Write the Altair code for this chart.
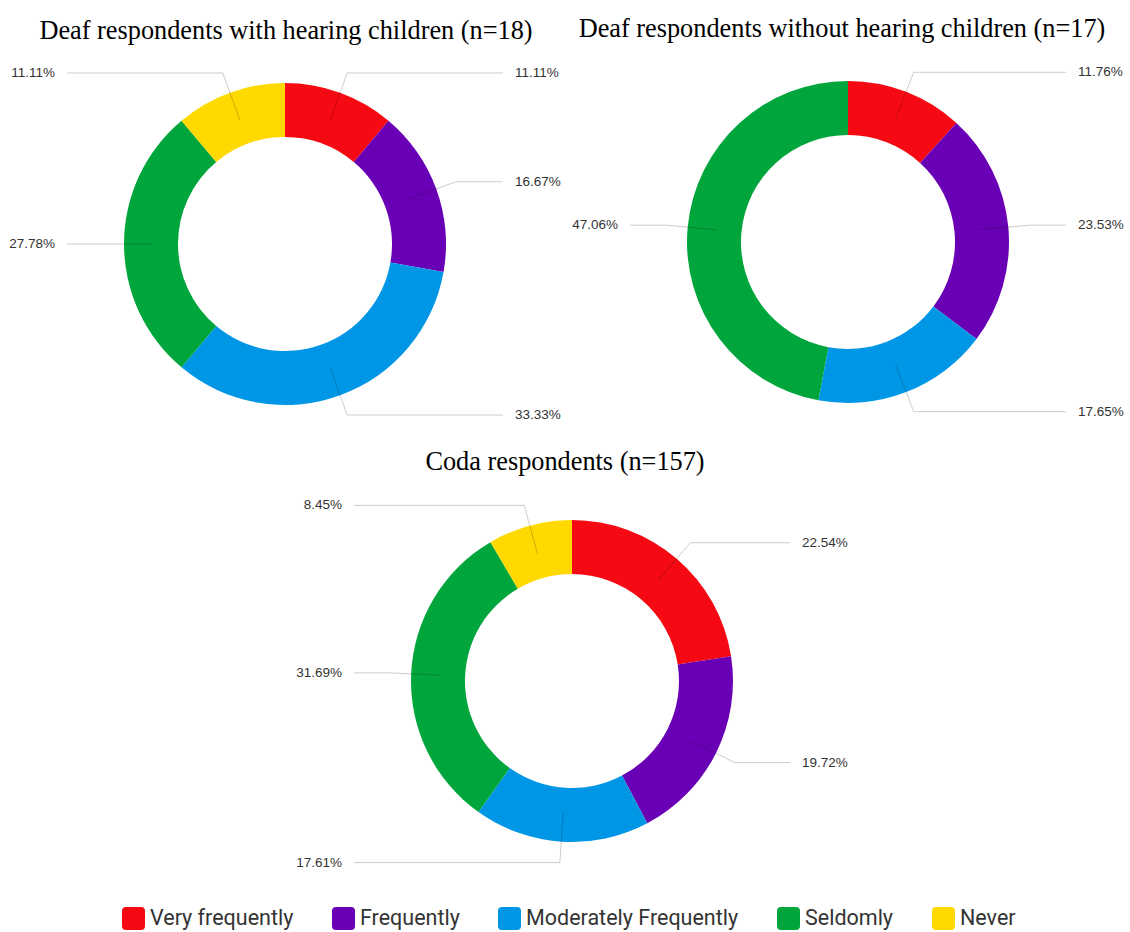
import math
import altair as alt
import pandas as pd

# ---------------- data ----------------
categories = ["Very frequently", "Frequently", "Moderately Frequently", "Seldomly", "Never"]
colors = ["#F50A14", "#6A00B5", "#0096E6", "#00A63C", "#FFD900"]
titles = [
    "Deaf respondents with hearing children (n=18)",
    "Deaf respondents without hearing children (n=17)",
    "Coda respondents (n=157)",
]
pct_with = [11.11, 16.67, 33.33, 27.78, 11.11]
pct_without = [11.76, 23.53, 17.65, 47.06, 0.0]
pct_coda = [22.54, 19.72, 17.61, 31.69, 8.45]
series = [pct_with, pct_without, pct_coda]

# ---------------- layout ----------------
W, H = 1130, 932
centers = [(285, 244), (848, 242), (572, 681)]
title_pos = [(286, 39), (842, 37), (565, 470)]
R_OUT, R_IN = 161, 107
R_START, R_BEND = 132, 182
LINE_DX, LABEL_DX = 218, 230

layers = []
rules = []
labels = []
for k, (vals, (cx, cy)) in enumerate(zip(series, centers)):
    df = pd.DataFrame({"category": categories, "value": vals, "idx": list(range(len(vals)))})
    df = df[df["value"] > 0]
    total = df["value"].sum()
    cum = 0.0
    for _, r in df.iterrows():
        mid = cum + r["value"] / 2
        cum += r["value"]
        a = mid / total * 2 * math.pi
        s, c = math.sin(a), math.cos(a)
        sx, sy = cx + R_START * s, cy - R_START * c
        bx, by = cx + R_BEND * s, cy - R_BEND * c
        side = 1 if s >= 0 else -1
        ex = cx + side * LINE_DX
        rules.append({"x": sx, "y": sy, "x2": bx, "y2": by})
        rules.append({"x": bx, "y": by, "x2": ex, "y2": by})
        labels.append({"x": cx + side * LABEL_DX, "y": by, "text": f"{r['value']:.2f}%",
                       "side": "right" if side > 0 else "left"})
    legend = None
    if k == 0:
        legend = alt.Legend(
            title=None, orient="none", legendX=122, legendY=907, direction="horizontal",
            columns=5,
            symbolType="M -1 -0.65 Q -1 -1 -0.65 -1 L 0.65 -1 Q 1 -1 1 -0.65 L 1 0.65 Q 1 1 0.65 1 L -0.65 1 Q -1 1 -1 0.65 Z",
            symbolSize=529, symbolStrokeWidth=0, symbolOpacity=1,
            labelFont="Roboto", labelFontSize=21.5, labelColor="#333333",
            labelOffset=5, columnPadding=38, labelLimit=400,
        )
    arc = alt.Chart(df).mark_arc(outerRadius=R_OUT, innerRadius=R_IN).encode(
        theta=alt.Theta("value:Q", stack=True),
        order=alt.Order("idx:Q"),
        color=alt.Color("category:N", scale=alt.Scale(domain=categories, range=colors), legend=legend),
        x=alt.value(cx),
        y=alt.value(cy),
    )
    layers.append(arc)

rule_df = pd.DataFrame(rules)
lab_df = pd.DataFrame(labels)
title_df = pd.DataFrame({"text": titles, "x": [p[0] for p in title_pos], "y": [p[1] for p in title_pos]})

rule_layer = alt.Chart(rule_df).mark_rule(color="black", opacity=0.2, strokeWidth=1).encode(
    x=alt.X("x:Q", scale=None), y=alt.Y("y:Q", scale=None),
    x2="x2:Q", y2="y2:Q",
)
lab_right = alt.Chart(lab_df[lab_df["side"] == "right"]).mark_text(
    align="left", baseline="middle", font="Liberation Sans", fontSize=13.5, color="#333333"
).encode(x=alt.X("x:Q", scale=None), y=alt.Y("y:Q", scale=None), text="text:N")
lab_left = alt.Chart(lab_df[lab_df["side"] == "left"]).mark_text(
    align="right", baseline="middle", font="Liberation Sans", fontSize=13.5, color="#333333"
).encode(x=alt.X("x:Q", scale=None), y=alt.Y("y:Q", scale=None), text="text:N")
title_layer = alt.Chart(title_df).mark_text(
    align="center", baseline="alphabetic", font="Liberation Serif", fontSize=26.3, color="black"
).encode(x=alt.X("x:Q", scale=None), y=alt.Y("y:Q", scale=None), text="text:N")

chart = alt.layer(*layers, rule_layer, lab_right, lab_left, title_layer).resolve_scale(
    theta="independent"
).properties(
    width=W, height=H, padding=0, autosize=alt.AutoSizeParams(type="none")
).configure_view(stroke=None)

chart.save("out.html", embed_options={"renderer": "svg", "actions": False})
